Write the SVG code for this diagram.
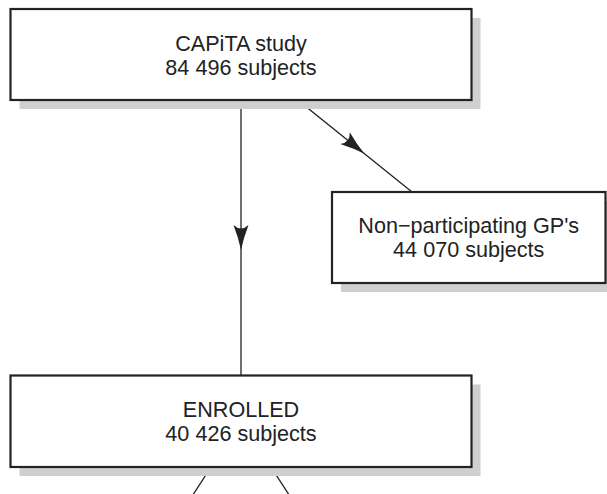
<svg xmlns="http://www.w3.org/2000/svg" width="607" height="494" viewBox="0 0 607 494">
<style>
.shadow{fill:#cfcfcf;stroke:none}
.box{fill:#fff;stroke:#222;stroke-width:2.2}
.lbl{font-family:"Liberation Sans",Arial,sans-serif;font-size:21.6px;fill:#222;text-anchor:middle}
.conn{fill:none;stroke:#222;stroke-width:1.3}
</style>
<defs>
<marker id="arr" markerUnits="userSpaceOnUse" markerWidth="30" markerHeight="20" viewBox="-27 -10 30 20" refX="0" refY="0" orient="auto" overflow="visible">
<path d="M0,0 Q-12,-2.5 -25,-7.5 Q-18,0 -25,7.5 Q-12,2.5 0,0Z" fill="#222"/>
</marker>
</defs>
<rect width="607" height="494" fill="#fff"/>
<g id="connectors">
<polyline class="conn" points="241,54.5 241,250 241,421" marker-mid="url(#arr)"/>
<polyline class="conn" points="241,54.5 364.5,153.8 468.5,237.5" marker-mid="url(#arr)"/>
<line class="conn" x1="241" y1="421" x2="189.6" y2="500"/>
<line class="conn" x1="241" y1="421" x2="292.4" y2="500"/>
</g>
<g id="capita">
<rect class="shadow" x="19.5" y="18" width="461" height="91"/>
<rect class="box" x="10.5" y="9" width="461" height="91"/>
<text class="lbl" x="241" y="50.5">CAPiTA study</text>
<text class="lbl" x="241" y="74.5">84 496 subjects</text>
</g>
<g id="nonpart">
<rect class="shadow" x="341" y="201" width="273.5" height="91"/>
<rect class="box" x="332" y="192" width="273.5" height="91"/>
<text class="lbl" x="468.75" y="233">Non−participating GP's</text>
<text class="lbl" x="468.75" y="257">44 070 subjects</text>
</g>
<g id="enrolled">
<rect class="shadow" x="19.5" y="384.5" width="461" height="91.5"/>
<rect class="box" x="10.5" y="375.5" width="461" height="91.5"/>
<text class="lbl" x="241" y="416.5">ENROLLED</text>
<text class="lbl" x="241" y="440.5">40 426 subjects</text>
</g>
</svg>
